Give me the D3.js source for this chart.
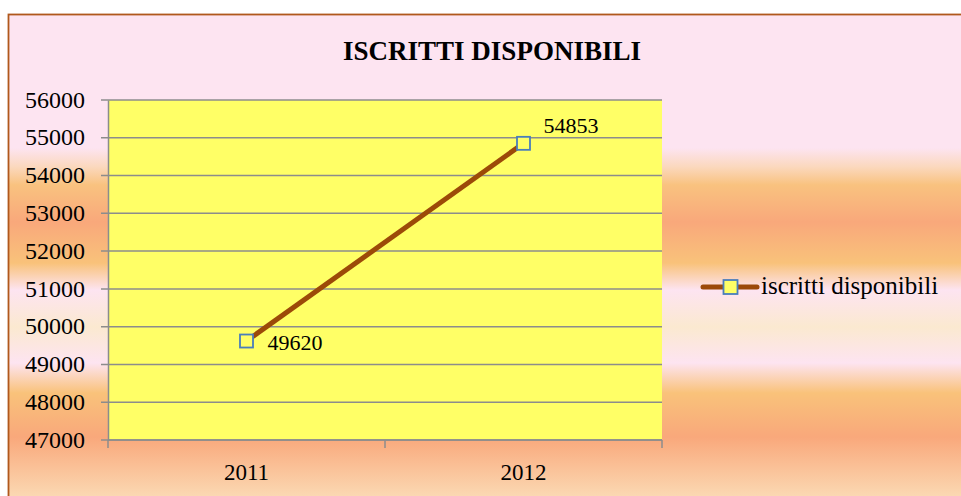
<!DOCTYPE html>
<html>
<head>
<meta charset="utf-8">
<script src="https://cdn.jsdelivr.net/npm/d3@7"></script>
<style>
  body { margin: 0; background: #fff; }
  text { font-family: "Liberation Serif", "DejaVu Serif", serif; fill: #000; }
</style>
</head>
<body>
<svg id="chart"></svg>
<script>
// data
const years = ["2011", "2012"];
const iscritti = [49620, 54853];
const yTicks = [47000, 48000, 49000, 50000, 51000, 52000, 53000, 54000, 55000, 56000];
const seriesName = "iscritti disponibili";
const title = "ISCRITTI DISPONIBILI";

const W = 961, H = 496;
const margin = {top: 100, left: 108, right: 961 - 662, bottom: 496 - 440};
const width = W - margin.left - margin.right,
      height = H - margin.top - margin.bottom;

const svg = d3.select("#chart").attr("width", W).attr("height", H);

// background gradient, horizontal bands of pink / orange
const defs = svg.append("defs");
const grad = defs.append("linearGradient")
  .attr("id", "bg")
  .attr("gradientUnits", "userSpaceOnUse")
  .attr("x1", 0).attr("y1", 14).attr("x2", 0).attr("y2", 496);
const stops = [
  [14, "#fde4f1"], [148, "#fde4f1"], [167, "#fbd8bd"], [185, "#f9c27f"],
  [222, "#f9a87b"], [263, "#f9c27a"], [290, "#fde4f1"], [327, "#fbe9d0"],
  [363, "#fde4f1"], [393, "#f9c27a"], [437, "#f9a87b"], [496, "#fbd8b2"]
];
stops.forEach(([y, c]) => {
  grad.append("stop").attr("offset", (y - 14) / (496 - 14)).attr("stop-color", c);
});

svg.append("rect")
  .attr("x", 8.5).attr("y", 14.5).attr("width", 980).attr("height", 500)
  .attr("fill", "url(#bg)")
  .attr("stroke", "#b0581c").attr("stroke-width", 1.8);

svg.append("text")
  .attr("x", 492).attr("y", 60)
  .attr("text-anchor", "middle")
  .style("font-size", "27px").style("font-weight", "bold")
  .text(title);

const g = svg.append("g").attr("transform", `translate(${margin.left},${margin.top})`);

const x = d3.scaleBand().domain(years).range([0, width]);
const y = d3.scaleLinear().domain([47000, 56000]).range([height, 0]);

g.append("rect").attr("width", width).attr("height", height).attr("fill", "#ffff66");

// gridlines
g.append("g").selectAll("line").data(yTicks).join("line")
  .attr("x1", -7).attr("x2", width)
  .attr("y1", d => y(d)).attr("y2", d => y(d))
  .attr("stroke", "#8c8c8c").attr("stroke-width", 1.5);

// y axis
const yAxis = g.append("g")
  .call(d3.axisLeft(y).tickValues(yTicks).tickSize(0).tickPadding(23).tickFormat(d3.format("d")));
yAxis.select(".domain").attr("stroke", "#8c8c8c").attr("stroke-width", 1.5);
yAxis.selectAll("text").style("font-size", "24px").attr("dy", "0.3em");

// x axis
const xAxis = g.append("g").attr("transform", `translate(0,${height})`)
  .call(d3.axisBottom(x).tickSize(0));
xAxis.select(".domain").remove();
xAxis.selectAll("text").style("font-size", "23px").attr("y", 40).attr("dy", 0);
g.append("g").attr("transform", `translate(0,${height})`)
  .selectAll("line").data([0, x.bandwidth(), width]).join("line")
  .attr("x1", d => d).attr("x2", d => d).attr("y1", 0).attr("y2", 8)
  .attr("stroke", "#8c8c8c").attr("stroke-width", 1.5);
g.append("line").attr("x1", 0).attr("x2", width).attr("y1", height).attr("y2", height)
  .attr("stroke", "#8c8c8c").attr("stroke-width", 1.5);

// line
const pts = years.map((yr, i) => [x(yr) + x.bandwidth() / 2, y(iscritti[i])]);
g.append("path").datum(pts)
  .attr("d", d3.line())
  .attr("fill", "none").attr("stroke", "#9c4a08").attr("stroke-width", 5);

g.selectAll(".marker").data(pts).join("rect")
  .attr("x", d => d[0] - 6.5).attr("y", d => d[1] - 6.5)
  .attr("width", 13).attr("height", 13)
  .attr("fill", "#ffff66").attr("stroke", "#4a7ebb").attr("stroke-width", 1.8);

// data labels
g.selectAll(".lbl").data(pts).join("text")
  .attr("x", d => d[0] + (d === pts[0] ? 21 : 20))
  .attr("y", d => d[1] + (d === pts[0] ? 9 : -10))
  .style("font-size", "22px")
  .text((d, i) => iscritti[i]);

// legend
const lg = svg.append("g").attr("transform", "translate(703,287)");
lg.append("line").attr("x1", 0).attr("x2", 54).attr("y1", 0).attr("y2", 0)
  .attr("stroke", "#9c4a08").attr("stroke-width", 5).attr("stroke-linecap", "round");
lg.append("rect").attr("x", 20.5).attr("y", -7).attr("width", 14).attr("height", 14)
  .attr("fill", "#ffff66").attr("stroke", "#4a7ebb").attr("stroke-width", 1.8);
lg.append("text").attr("x", 58).attr("y", 7).style("font-size", "25px").text(seriesName);
</script>
</body>
</html>
